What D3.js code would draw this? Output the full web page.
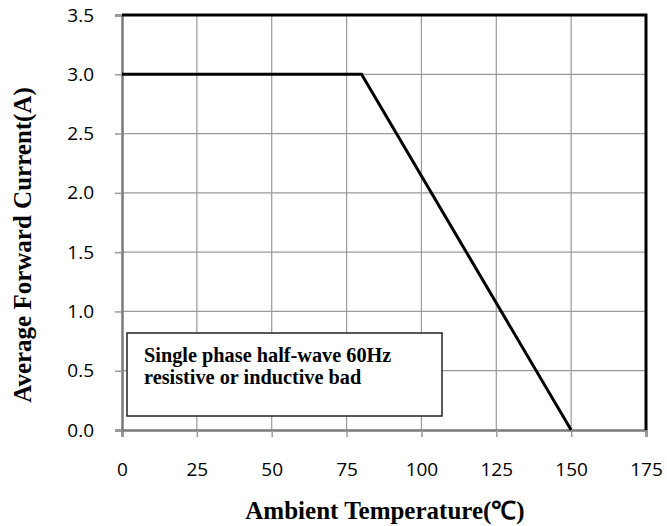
<!DOCTYPE html>
<html><head><meta charset="utf-8">
<script src="https://cdn.jsdelivr.net/npm/d3@7"></script>
<style>body{margin:0;background:#fff}svg{display:block}</style>
</head><body>
<script>
const temps = [0, 80, 150];
const currents = [3.0, 3.0, 0.0];
const xTicks = [0, 25, 50, 75, 100, 125, 150, 175];
const yTicks = [0.0, 0.5, 1.0, 1.5, 2.0, 2.5, 3.0, 3.5];
const xTitle = "Ambient Temperature(℃)";
const yTitle = "Average Forward Current(A)";
const noteLines = ["Single phase half-wave 60Hz", "resistive or inductive bad"];

const W = 667, H = 526;
const m = {l:122, r:21, t:15, b:96};
const svg = d3.select("body").append("svg").attr("width", W).attr("height", H);
const x = d3.scaleLinear().domain([0,175]).range([m.l, W-m.r]);
const y = d3.scaleLinear().domain([0,3.5]).range([H-m.b, m.t]);

// grid
svg.append("g").selectAll("line").data(xTicks.slice(1)).join("line")
  .attr("x1", d=>x(d)).attr("x2", d=>x(d)).attr("y1", y(0)).attr("y2", y(3.5))
  .attr("stroke", "#9a9a9a").attr("stroke-width", 1.2);
svg.append("g").selectAll("line").data(yTicks.slice(1)).join("line")
  .attr("x1", x(0)).attr("x2", x(175)).attr("y1", d=>y(d)).attr("y2", d=>y(d))
  .attr("stroke", "#9a9a9a").attr("stroke-width", 1.2);

// axes
const xa = svg.append("g").attr("transform", `translate(0,${y(0)})`)
  .call(d3.axisBottom(x).tickValues(xTicks).tickSize(7).tickPadding(26).tickFormat(d3.format("d")));
const ya = svg.append("g").attr("transform", `translate(${x(0)},0)`)
  .call(d3.axisLeft(y).tickValues(yTicks).tickSize(7).tickPadding(21).tickFormat(d3.format(".1f")));
[xa, ya].forEach(a => {
  a.select(".domain").attr("stroke", "#7a7a7a").attr("stroke-width", 2.5);
  a.selectAll(".tick line").attr("stroke", "#9a9a9a").attr("stroke-width", 1.5);
  a.selectAll(".tick text").attr("font-family", "'Open Sans', sans-serif").attr("font-size", 19).attr("fill", "#000");
});

// top and right border
svg.append("path")
  .attr("d", `M${x(0)},${y(3.5)}H${x(175)}V${y(0)}`)
  .attr("fill", "none").attr("stroke", "#000").attr("stroke-width", 3);

// data line
svg.append("path").datum(temps.map((t,i)=>[t,currents[i]]))
  .attr("d", d3.line().x(d=>x(d[0])).y(d=>y(d[1])))
  .attr("fill", "none").attr("stroke", "#000").attr("stroke-width", 3);

// note box
const bx = 127, by = 333, bw = 315, bh = 83;
svg.append("rect").attr("x", bx).attr("y", by).attr("width", bw).attr("height", bh)
  .attr("fill", "#fff").attr("stroke", "#222").attr("stroke-width", 1.5);
svg.append("g").selectAll("text").data(noteLines).join("text")
  .attr("x", 144).attr("y", (d,i)=>362 + i*21.5)
  .attr("font-family", "'Liberation Serif', serif").attr("font-weight", "bold")
  .attr("font-size", 20.3).text(d=>d);

// titles
svg.append("text").attr("x", 385).attr("y", 519).attr("text-anchor", "middle")
  .attr("font-family", "'Liberation Serif', serif").attr("font-weight", "bold").attr("font-size", 25)
  .text(xTitle);
svg.append("text").attr("transform", `translate(31,245) rotate(-90)`)
  .attr("text-anchor", "middle")
  .attr("font-family", "'Liberation Serif', serif").attr("font-weight", "bold").attr("font-size", 25)
  .text(yTitle);
</script>
</body></html>
